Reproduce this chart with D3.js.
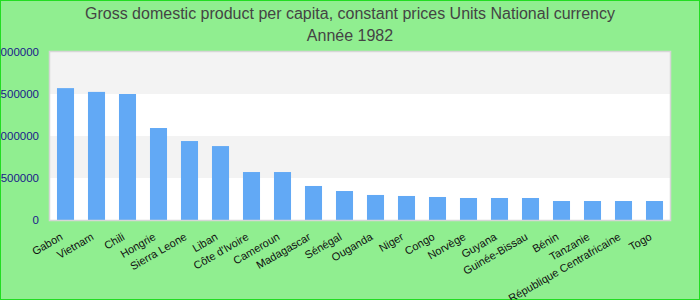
<!DOCTYPE html>
<html>
<head>
<meta charset="utf-8">
<script src="https://cdn.jsdelivr.net/npm/d3@7"></script>
<style>
  html, body { margin: 0; padding: 0; background: #90ee90; }
  svg { display: block; font-family: "Liberation Sans", Arial, sans-serif; }
</style>
</head>
<body>
<div id="chart"></div>
<script>
// Bar chart: GDP per capita, 1982
var countries = ['Gabon', 'Vietnam', 'Chili', 'Hongrie', 'Sierra Leone', 'Liban', "Côte d'Ivoire",
  'Cameroun', 'Madagascar', 'Sénégal', 'Ouganda', 'Niger', 'Congo', 'Norvège', 'Guyana',
  'Guinée-Bissau', 'Bénin', 'Tanzanie', 'République Centrafricaine', 'Togo'];
var values = [1570000, 1525000, 1500000, 1095000, 940000, 880000, 571000,
  571000, 405000, 345000, 298000, 286000, 274000, 262000, 262000,
  262000, 226000, 226000, 226000, 226000];
var yTicks = [0, 500000, 1000000, 1500000, 2000000];
var titleLines = ['Gross domestic product per capita, constant prices Units National currency', 'Année 1982'];

(function() {
  'use strict';

  var width = 700, height = 300;
  var margin = { top: 52, right: 30, bottom: 80, left: 50 };
  var innerW = width - margin.left - margin.right;
  var innerH = height - margin.top - margin.bottom;

  var svg = d3.select('#chart').append('svg')
    .attr('width', width)
    .attr('height', height);

  // page background + border
  svg.append('rect')
    .attr('x', 0.5).attr('y', 0.5)
    .attr('width', width - 1).attr('height', height - 1)
    .style('fill', '#90ee90')
    .style('stroke', '#22dd22');

  // Title
  svg.append('g').selectAll('text')
    .data(titleLines)
    .join('text')
    .attr('x', width / 2)
    .attr('y', function(d, i) { return 19 + i * 22; })
    .attr('text-anchor', 'middle')
    .style('font-size', '16px')
    .style('fill', '#444444')
    .text(function(d) { return d; });

  var x = d3.scaleBand()
    .domain(countries)
    .range([0, innerW])
    .paddingInner(0.45)
    .paddingOuter(0.225);

  var y = d3.scaleLinear()
    .domain([0, 2000000])
    .range([innerH, 0]);

  var g = svg.append('g')
    .attr('transform', 'translate(' + margin.left + ',' + margin.top + ')');

  // plot background with alternating bands
  g.append('rect')
    .attr('width', innerW).attr('height', innerH)
    .style('fill', '#ffffff');

  var bands = d3.pairs(yTicks);
  g.append('g').selectAll('rect')
    .data(bands)
    .join('rect')
    .attr('x', 0)
    .attr('width', innerW)
    .attr('y', function(d) { return y(d[1]); })
    .attr('height', function(d) { return y(d[0]) - y(d[1]); })
    .style('fill', function(d, i) { return i % 2 === 1 ? '#f3f3f3' : '#ffffff'; });

  // bars
  g.append('g').selectAll('rect')
    .data(values)
    .join('rect')
    .attr('x', function(d, i) { return x(countries[i]); })
    .attr('width', x.bandwidth())
    .attr('y', function(d) { return y(d); })
    .attr('height', function(d) { return innerH - y(d); })
    .style('fill', '#62a9f5');

  // plot border
  g.append('rect')
    .attr('x', -0.5).attr('y', -0.5)
    .attr('width', innerW + 1).attr('height', innerH + 1)
    .style('fill', 'none')
    .style('stroke', '#d6d6d6')
    .style('stroke-width', '1.5');

  // y axis (labels overflow the left edge, as in the original)
  var yAxis = g.append('g')
    .call(d3.axisLeft(y).tickValues(yTicks).tickFormat(d3.format('d')).tickSize(0).tickPadding(11));
  yAxis.select('.domain').remove();
  yAxis.selectAll('text')
    .style('font-size', '11.5px')
    .style('font-family', '"Liberation Sans", Arial, sans-serif')
    .style('fill', '#1a1a8a');

  // x axis
  var xAxis = g.append('g')
    .attr('transform', 'translate(0,' + innerH + ')')
    .call(d3.axisBottom(x).tickSize(0).tickPadding(0));
  xAxis.select('.domain').remove();
  xAxis.selectAll('text')
    .attr('text-anchor', 'end')
    .attr('dy', null)
    .attr('transform', 'translate(-2,19) rotate(-30)')
    .style('font-size', '11px')
    .style('font-family', '"Liberation Sans", Arial, sans-serif')
    .style('fill', '#111111');
})();
</script>
</body>
</html>
